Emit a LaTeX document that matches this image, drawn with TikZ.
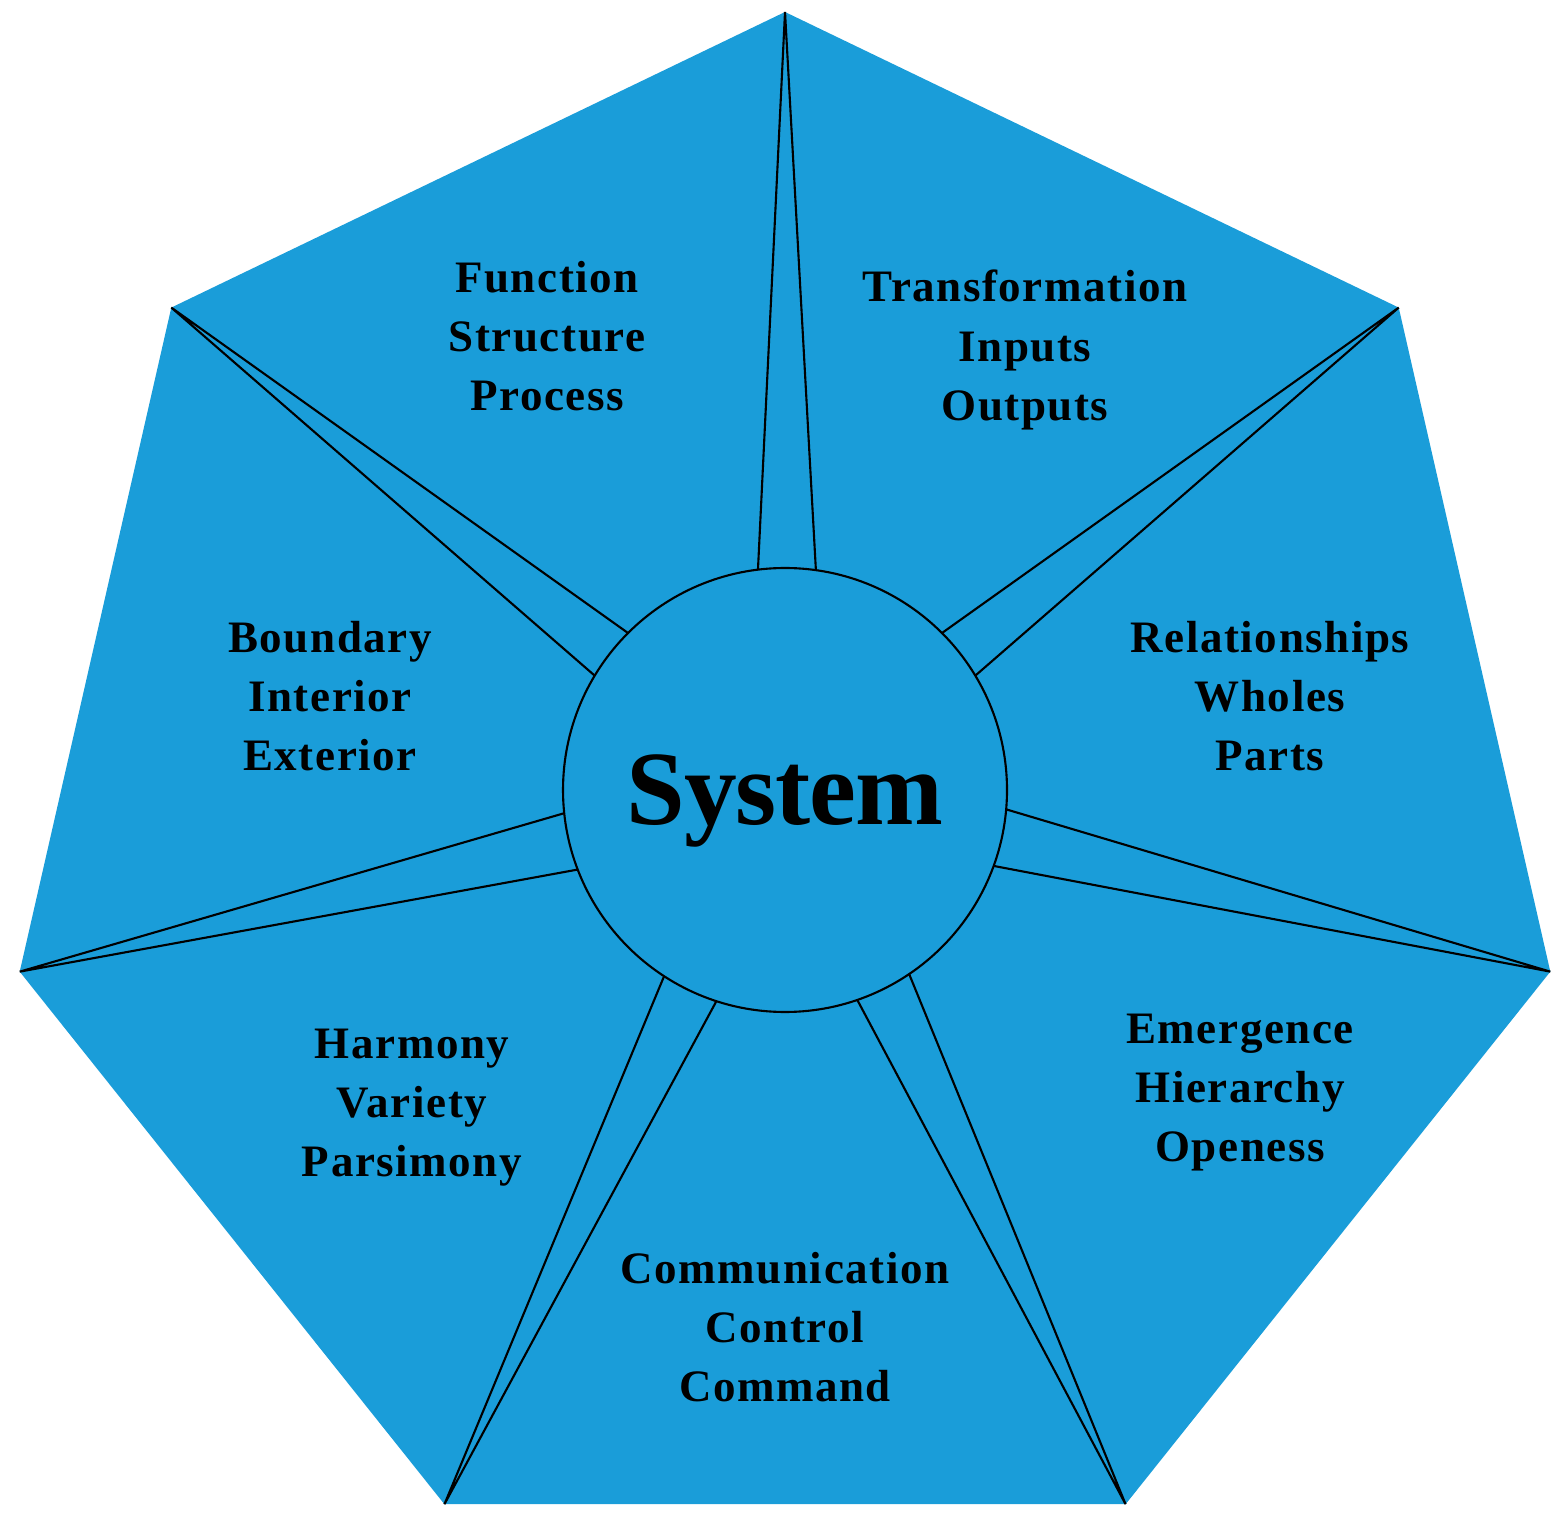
\documentclass[tikz,border=0pt]{standalone}
\usepackage{fontspec}
\setmainfont{Liberation Serif}
\newfontfamily\lblfamily[LetterSpace=3.5]{Liberation Serif}
\newfontfamily\hubfamily[LetterSpace=-1]{Liberation Serif}
\usepackage{xcolor}
\usetikzlibrary{positioning}
\definecolor{sysblue}{RGB}{26,157,217}

\tikzset{
    lbl/.style={font=\lblfamily\bfseries\fontsize{12.8}{16.8}\selectfont, align=center, text=black},
    hub/.style={circle, draw=black, line width=0.6pt, fill=sysblue, minimum size=44.4mm,
        inner sep=0pt, outer sep=0pt, text depth=0pt,
        font=\hubfamily\bfseries\fontsize{30}{30}\selectfont},
    spoke/.style={draw=black, line width=0.6pt}
}

\begin{document}
\begin{tikzpicture}[x=0.1mm, y=0.1mm]
    \useasboundingbox (0,0) rectangle (1561,1531);

    % Corners of the heptagon
    \foreach \k in {0,...,6} {
        \pgfmathsetmacro\ang{90-\k*360/7}
        \coordinate (v\k) at ([shift={(785,734)}]\ang:785);
    }
    \fill[sysblue] (v0) -- (v1) -- (v2) -- (v3) -- (v4) -- (v5) -- (v6) -- cycle;

    % Centre circle
    \node[hub] (sys) at (785,741) {System};

    % Draw spokes from each corner to the circle
    \foreach \k in {0,...,6} {
        \pgfmathsetmacro\ang{90-\k*360/7}
        \pgfmathsetmacro\lo{\ang-7.3}
        \pgfmathsetmacro\hi{\ang+7.3}
        \draw[spoke] (sys.\lo) -- (v\k) -- (sys.\hi);
    }

    % Labels
    \node[lbl] (fsp) at (547,1195) {Function\\Structure\\Process};
    \node[lbl] (tio) at (1025,1181) {Transformation\\Inputs\\Outputs};
    \node[lbl] (rwp) at (1270,835) {Relationships\\Wholes\\Parts};
    \node[lbl] (eho) at (1240,438) {Emergence\\Hierarchy\\Openess};
    \node[lbl] (ccc) at (785,204) {Communication\\Control\\Command};
    \node[lbl] (hvp) at (412,423) {Harmony\\Variety\\Parsimony};
    \node[lbl] (bie) at (330,835) {Boundary\\Interior\\Exterior};
\end{tikzpicture}
\end{document}
